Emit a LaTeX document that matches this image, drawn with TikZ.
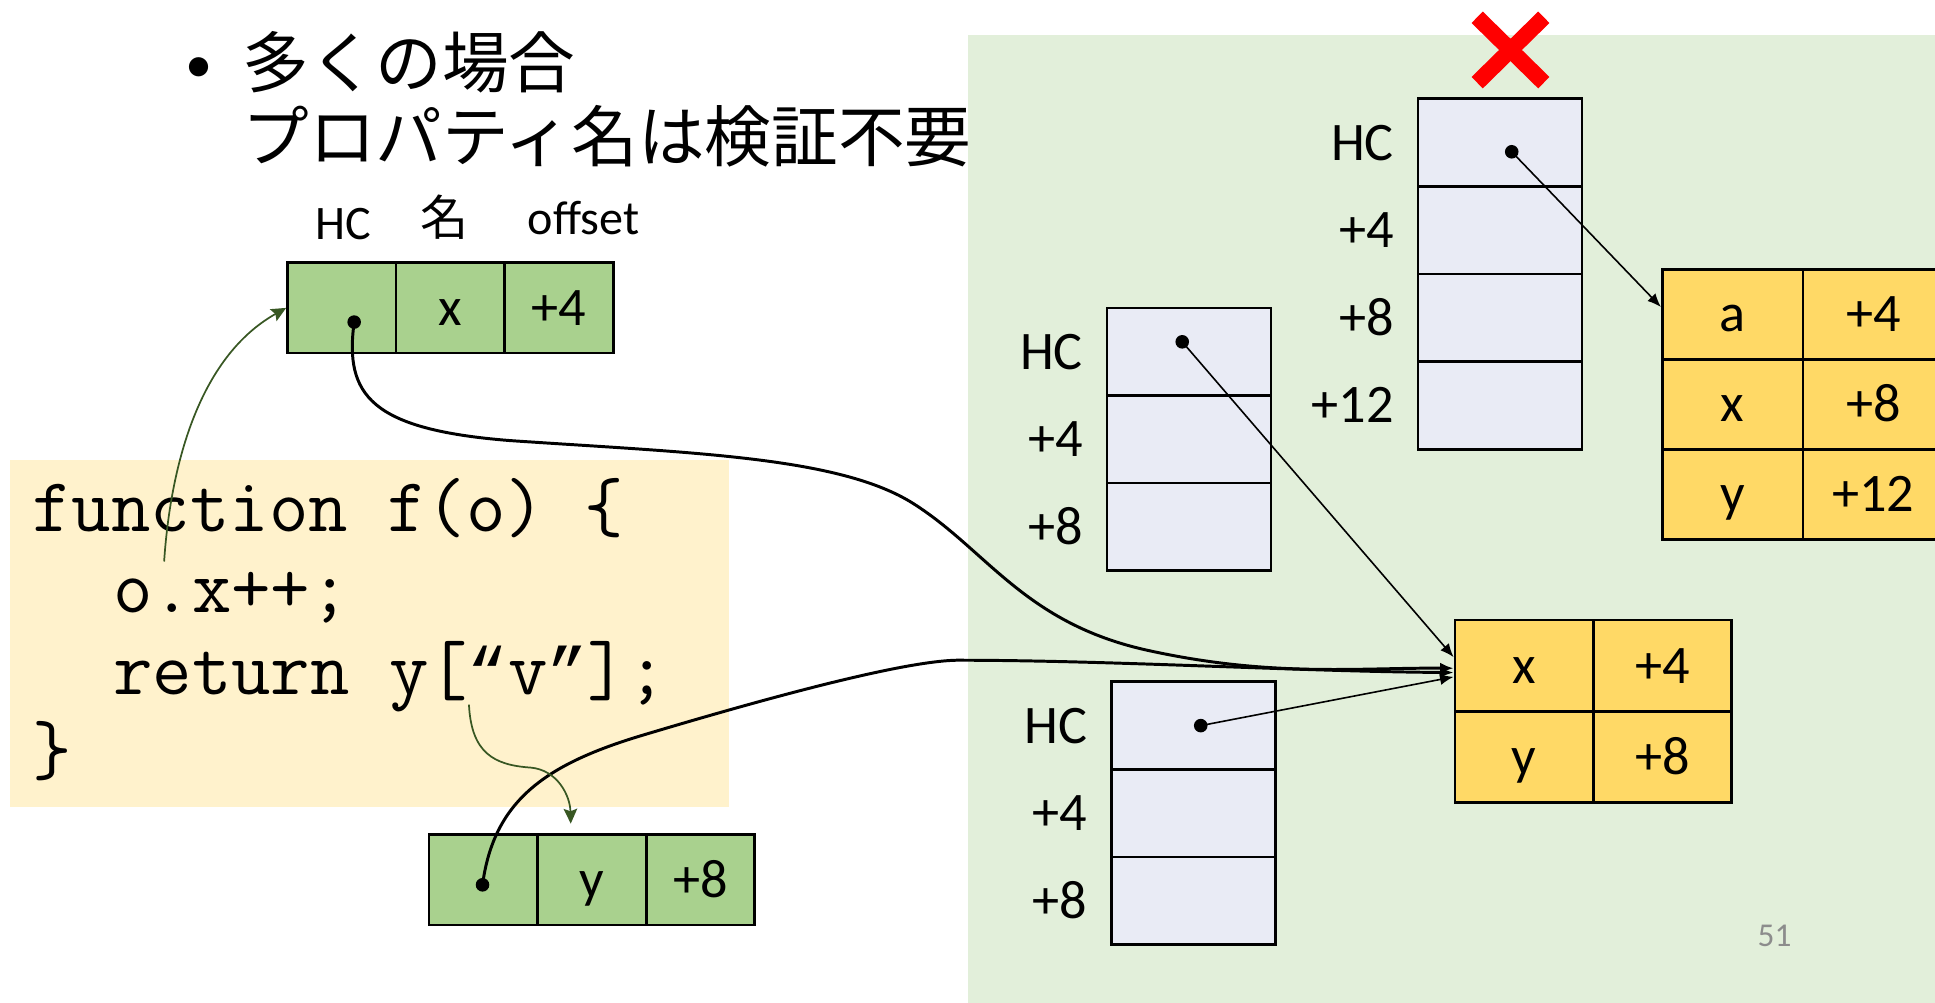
\documentclass[tikz,border=0pt]{standalone}
\usepackage{fontspec}
\setmainfont{Carlito}
\newfontfamily\jpfont{Noto Sans CJK JP}
\newfontfamily\qfont{Liberation Mono}
\usetikzlibrary{arrows.meta,calc}
\definecolor{panelgreen}{HTML}{E2EFDA}
\definecolor{codebg}{HTML}{FFF2CC}
\definecolor{tgreen}{HTML}{A9D18E}
\definecolor{hcbox}{HTML}{E9EBF5}
\definecolor{tyellow}{HTML}{FFD966}
\definecolor{dkgreen}{HTML}{385723}
\definecolor{pgray}{HTML}{8C8C8C}
\newcommand{\cq}[1]{{\qfont\fontsize{27.1pt}{36pt}\selectfont #1}}
\tikzset{
  cell/.style={draw=black, line width=1.1pt, inner sep=0pt, text height=14.2pt, text depth=0pt,
               font=\fontsize{22pt}{26pt}\selectfont},
  gcell/.style={cell, fill=tgreen, minimum width=44pt, minimum height=36.5pt},
  hcell/.style={cell, fill=hcbox, minimum width=66.5pt, minimum height=35.5pt},
  ycell/.style={cell, fill=tyellow, minimum width=57pt, minimum height=36.5pt},
  ycellm/.style={cell, fill=tyellow, minimum width=56pt, minimum height=37pt},
  lbl/.style={anchor=east, inner sep=0pt, text height=14.2pt, text depth=0pt, xshift=-9pt,
              font=\fontsize{22pt}{26pt}\selectfont},
  toplbl/.style={anchor=base, inner sep=0pt, font=\fontsize{19.5pt}{23pt}\selectfont},
  dotn/.style={circle, fill=black, inner sep=0pt, minimum size=5.5pt},
  codetxt/.style={anchor=base west, inner sep=0pt, font=\ttfamily\fontsize{31pt}{36pt}\selectfont},
  jptxt/.style={anchor=base west, inner sep=0pt, font=\jpfont\fontsize{27pt}{32pt}\selectfont},
  thickc/.style={line width=1.2pt, -{Latex[length=5.5pt,width=4.5pt]}},
  thinc/.style={line width=0.65pt, -{Latex[length=5.5pt,width=4.5pt]}},
  grnc/.style={draw=dkgreen, line width=0.7pt, -{Stealth[length=6pt,width=5.5pt,inset=1pt]}, dkgreen}
}
\begin{document}
\begin{tikzpicture}[x=0.5pt,y=-0.5pt]
\useasboundingbox (0,0) rectangle (1568,812);
% panels
\fill[panelgreen] (784,28) rectangle (1600,830);
\node[fill=codebg, inner sep=0pt, minimum width=291.5pt, minimum height=140.5pt] (codebox) at (299.5,513.5) {};

% bullet text
\node[anchor=base, inner sep=0pt, font=\fontsize{22pt}{26pt}\selectfont] (bul) at (161,67) {•};
\node[jptxt] (b1) at (196,71) {多くの場合};
\node[jptxt] (b2) at (196,131) {プロパティ名は検証不要};

% top labels
\node[toplbl] (lhc) at (278,194) {HC};
\node[toplbl, font=\jpfont\fontsize{19.5pt}{23pt}\selectfont] (lname) at (360,191) {名};
\node[toplbl] (loff) at (473,190) {offset};

% top green table
\node[gcell] (g1) at (277,249.5) {};
\node[gcell] (g2) at (365,249.5) {x};
\node[gcell] (g3) at (453,249.5) {+4};

% bottom green table
\node[gcell] (h1) at (391.7,713) {};
\node[gcell] (h2) at (479.5,713) {y};
\node[gcell] (h3) at (567.6,713) {+8};

% code
\node[codetxt] (c1) at (26,431) {function f(o) \{};
\node[codetxt] (c2) at (91.4,496) {o.x++;};
\node[codetxt] (c3) at (91.4,563) {return y[\cq{“}v\cq{”}];};
\node[codetxt] (c4) at (26,628) {\}};

% top HC box (crossed out)
\node[hcell] (t1) at (1215.5,115.5) {};
\node[hcell] (t2) at (1215.5,186.5) {};
\node[hcell] (t3) at (1215.5,257.5) {};
\node[hcell] (t4) at (1215.5,328.5) {};
\node[lbl] (tl1) at (t1.west) {HC};
\node[lbl] (tl2) at (t2.west) {+4};
\node[lbl] (tl3) at (t3.west) {+8};
\node[lbl] (tl4) at (t4.west) {+12};

% middle HC box
\node[hcell] (m1) at (963.5,285) {};
\node[hcell] (m2) at (963.5,356) {};
\node[hcell] (m3) at (963.5,427) {};
\node[lbl] (ml1) at (m1.west) {HC};
\node[lbl] (ml2) at (m2.west) {+4};
\node[lbl] (ml3) at (m3.west) {+8};

% bottom HC box
\node[hcell] (n1) at (967,588) {};
\node[hcell] (n2) at (967,659) {};
\node[hcell] (n3) at (967,730) {};
\node[lbl] (nl1) at (n1.west) {HC};
\node[lbl] (nl2) at (n2.west) {+4};
\node[lbl] (nl3) at (n3.west) {+8};

% right yellow table
\node[ycell] (ya) at (1404,254.8) {a};
\node[ycell] (ya4) at (1518,254.8) {+4};
\node[ycell] (yx8l) at (1404,327.7) {x};
\node[ycell] (yx8) at (1518,327.7) {+8};
\node[ycell] (yyl) at (1404,400.6) {y};
\node[ycell] (yy12) at (1518,400.6) {+12};

% middle yellow table
\node[ycellm] (yx) at (1235,539.5) {x};
\node[ycellm] (yx4) at (1347,539.5) {+4};
\node[ycellm] (yy) at (1235,613.5) {y};
\node[ycellm] (yy8) at (1347,613.5) {+8};

% red cross
\draw[red, line width=6.5pt] (1197,14) -- (1251,67);
\draw[red, line width=6.5pt] (1251,14) -- (1197,67);

% page number
\node[anchor=base, inner sep=0pt, text=pgray, font=\fontsize{13.5pt}{16pt}\selectfont] (pg) at (1438,767) {51};

% dots
\node[dotn] (dotA) at (287,261) {};
\node[dotn] (dotB) at (391,717) {};
\node[dotn] (dotC) at (1225,123) {};
\node[dotn] (dotD) at (958,277) {};
\node[dotn] (dotE) at (973,588) {};

% connectors
\draw[thickc] (dotA.center) .. controls (279,320) and (300,348) .. (413,357)
   .. controls (560,367) and (680,370) .. (740,408)
   .. controls (800,446) and (830,505) .. (930,527)
   .. controls (1030,549) and (1100,541) .. ($(yx.west)+(0,2)$);
\draw[thickc] (dotB.center) .. controls (400,650) and (440,620) .. (520,596)
   .. controls (620,566) and (730,536) .. (775,535)
   .. controls (900,535) and (1050,544) .. ($(yx.west)+(0,5.5)$);
\draw[thinc] (dotC.center) -- ($(ya.west)+(0,-6)$);
\draw[thinc] (dotD.center) -- ($(yx.west)+(0,-7)$);
\draw[thinc] (dotE.center) -- ($(yx.west)+(0,9)$);

\coordinate (gs3) at (133,455);
\coordinate (gs4) at (380,571);
\draw[grnc] (gs3) .. controls (138,380) and (160,290) .. (g1.west);
\draw[grnc] (gs4) .. controls (382,610) and (400,620) .. (430,622)
   .. controls (452,624) and (462,645) .. ($(h2.north)+(-17,-8)$);
\end{tikzpicture}
\end{document}
